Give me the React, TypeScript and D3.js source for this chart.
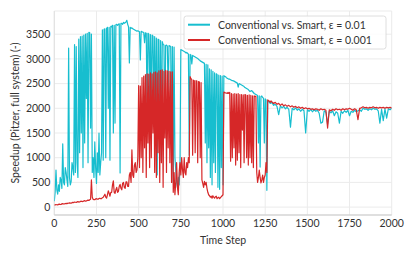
import * as d3 from 'd3';

const W = 415;
const H = 256;
const M = { top: 11, right: 23.3, bottom: 41, left: 54.3 };

const CYAN = '#17becf';
const RED = '#d62728';
const FONT = 'Lato, "DejaVu Sans", sans-serif';

// time steps: every 5 steps up to 1295, then every 10 steps
const steps = [...d3.range(0, 1300, 5), ...d3.range(1300, 2001, 10)];

// Conventional vs. Smart, eps = 0.01
const cyanValues = [
  120, 300, 750, 350, 260, 450, 320, 600, 550, 380, 1280, 500, 450, 800, 700, 550, 420, 3220, 600, 450,
  520, 900, 800, 650, 3290, 700, 3250, 900, 600, 3400, 1100, 3450, 1500, 3460, 800, 3480, 1300, 3500, 2200, 3520,
  900, 3540, 3530, 1600, 3500, 700, 1000, 600, 1320, 800, 480, 1100, 700, 1500, 650, 900, 1100, 3590, 950, 3600,
  3610, 1000, 3620, 3640, 2000, 3640, 950, 3660, 3650, 3680, 1500, 3680, 1700, 3690, 3700, 3680, 3700, 3710, 690, 3720,
  3720, 3700, 3740, 3720, 3730, 3750, 3780, 3700, 3650, 2920, 3640, 3620, 3630, 3610, 3600, 3590, 3580, 3570, 3560, 3570,
  3560, 3550, 2980, 3560, 3550, 3540, 3540, 3330, 3530, 3520, 1950, 3520, 3500, 2200, 3490, 1800, 3480, 3460, 1970, 3450,
  1600, 3420, 650, 3400, 3390, 950, 3370, 1200, 3350, 3290, 3280, 1500, 3270, 3280, 3260, 2310, 3270, 3260, 3250, 1100,
  3250, 500, 3240, 1000, 750, 500, 400, 600, 450, 800, 3190, 3180, 3170, 3160, 3150, 3140, 3120, 3130, 3110, 3100,
  1050, 3090, 3080, 2900, 3070, 3060, 3050, 3040, 3030, 3020, 3010, 2990, 2980, 2960, 2950, 2940, 2930, 2920, 2910, 1300,
  2890, 900, 2880, 1200, 2800, 600, 2780, 450, 2750, 900, 2720, 700, 2700, 2680, 400, 2670, 360, 2660, 800, 2650,
  450, 2660, 2650, 2640, 2620, 2610, 2600, 2590, 2590, 2580, 2570, 2560, 2560, 2550, 2540, 2530, 2520, 2510, 2430, 2500,
  2490, 2480, 2470, 2460, 2450, 2440, 2420, 2410, 2400, 2390, 2380, 2360, 2340, 2350, 2360, 2340, 2320, 2300, 2290, 2280,
  2270, 2260, 1300, 2250, 810, 2240, 2250, 2220, 2200, 1300, 2190, 2170, 340, 2150, 2140, 2120, 2100, 2110, 2120, 2090,
  // from 1300 on, every 10 steps
  2060, 2080, 2040, 1870, 2050, 2010, 2040, 1990, 2020, 1980,
  1620, 2000, 1970, 2010, 1960, 1990, 1940, 1980, 1950, 1500,
  1970, 1940, 1980, 1930, 1970, 1940, 1960, 1900, 1700, 1720,
  1950, 1920, 1680, 1940, 1910, 1950, 1850, 1930, 1900, 1700,
  1940, 1900, 1950, 1920, 1960, 1850, 1940, 1920, 1960, 1930,
  1950, 1970, 1940, 2000, 1980, 1990, 1960, 1990, 1970, 2000,
  1980, 1990, 1950, 1700, 1980, 1750, 1990, 1800, 1990, 1970,
  2000,
];

// Conventional vs. Smart, eps = 0.001
const redValues = [
  40, 45, 50, 48, 45, 55, 60, 52, 55, 65, 70, 62, 65, 72, 75, 70, 80, 78, 85, 80,
  80, 90, 95, 92, 100, 98, 95, 105, 110, 102, 105, 115, 120, 112, 115, 125, 130, 120, 125, 135,
  140, 135, 150, 160, 550, 200, 160, 150, 150, 165, 170, 160, 160, 175, 180, 170, 170, 190, 200, 230,
  260, 200, 180, 250, 330, 280, 220, 300, 300, 450, 530, 300, 280, 350, 400, 300, 320, 420, 460, 380,
  350, 480, 500, 400, 380, 510, 510, 420, 420, 650, 700, 500, 1160, 650, 600, 850, 900, 700, 750, 1000,
  2460, 800, 2450, 1000, 2620, 700, 2650, 1200, 2680, 600, 2700, 1300, 2690, 800, 2720, 1000, 2700, 1500, 2730, 700,
  2740, 600, 2720, 1100, 2760, 500, 2770, 900, 2780, 400, 2750, 1400, 2770, 700, 2760, 1200, 2750, 900, 2740, 500,
  2740, 300, 700, 250, 500, 900, 400, 250, 700, 900, 650, 1000, 750, 600, 1000, 700, 650, 900, 800, 1000,
  900, 2640, 2600, 2580, 1050, 2570, 2560, 1100, 2560, 2550, 900, 2540, 2530, 1000, 2520, 550, 480, 400, 520, 450,
  500, 380, 300, 250, 230, 200, 220, 180, 230, 200, 180, 210, 220, 170, 190, 200, 170, 190, 210, 230,
  250, 2330, 2320, 2310, 2310, 2300, 2320, 2300, 2320, 930, 2300, 1000, 2290, 1200, 2300, 850, 2290, 950, 2300, 1100,
  2280, 800, 2280, 1560, 2270, 900, 2280, 2270, 1000, 2260, 850, 2270, 1000, 2260, 900, 2250, 800, 2250, 2240, 2240,
  700, 500, 600, 750, 600, 490, 550, 650, 500, 600, 650, 900, 700, 2170, 2160, 2140, 2120, 2150, 2130, 2110,
  // from 1300 on, every 10 steps
  2100, 2120, 2080, 2100, 2060, 2090, 2050, 2070, 2040, 2060,
  2030, 2050, 2020, 2040, 2010, 2030, 2000, 2020, 1990, 2010,
  1990, 2000, 1980, 1990, 1970, 1990, 1980, 1960, 1990, 1970,
  1980, 1960, 1600, 1970, 1950, 1980, 1960, 1990, 1970, 1980,
  1960, 1990, 1970, 1990, 1980, 2000, 1980, 1960, 1990, 1970,
  1770, 2000, 2010, 2030, 2010, 2020, 2000, 2020, 2010, 2030,
  2010, 2020, 2000, 2020, 2010, 2020, 2000, 2020, 2010, 2020,
  2010,
];

const xTicks = [0, 250, 500, 750, 1000, 1250, 1500, 1750, 2000];
const yTicks = [0, 500, 1000, 1500, 2000, 2500, 3000, 3500];

const seriesLabels = ['Conventional vs. Smart, ε = 0.01', 'Conventional vs. Smart, ε = 0.001'];

export default function App() {
  const x = d3.scaleLinear().domain([0, 2000]).range([M.left, W - M.right]);
  const y = d3.scaleLinear().domain([-160, 3970]).range([H - M.bottom, M.top]);

  const line = d3
    .line<number>()
    .x((_, i) => x(steps[i]))
    .y((d) => y(d));

  const series = [
    { values: cyanValues, color: CYAN },
    { values: redValues, color: RED },
  ];

  const x0 = M.left;
  const x1 = W - M.right;
  const y0 = H - M.bottom;
  const y1 = M.top;

  return (
    <svg width={W} height={H} style={{ position: 'absolute', left: 0, top: 0 }} fontFamily={FONT}>
      <rect width={W} height={H} fill="#fff" />
      {/* grid */}
      {xTicks.map((t) => (
        <line key={'gx' + t} x1={x(t)} x2={x(t)} y1={y1} y2={y0} stroke="#ebebeb" strokeWidth={1} />
      ))}
      {yTicks.map((t) => (
        <line key={'gy' + t} x1={x0} x2={x1} y1={y(t)} y2={y(t)} stroke="#ebebeb" strokeWidth={1} />
      ))}
      <line x1={x0} x2={x1} y1={y1} y2={y1} stroke="#ebebeb" />
      <line x1={x0} x2={x0} y1={y1} y2={y0} stroke="#e0e0e0" />
      <line x1={x0} x2={x1} y1={y0} y2={y0} stroke="#d4d4d4" strokeWidth={1.3} />

      <defs>
        <clipPath id="plotClip">
          <rect x={x0} y={y1} width={x1 - x0} height={y0 - y1} />
        </clipPath>
      </defs>
      <g clipPath="url(#plotClip)">
        {series.map((s) => (
          <path key={s.color} d={line(s.values) ?? ''} fill="none" stroke={s.color} strokeWidth={1.2} strokeLinejoin="round" />
        ))}
      </g>

      {/* ticks */}
      {xTicks.map((t) => (
        <text key={'tx' + t} x={x(t)} y={y0 + 12} textAnchor="middle" fontSize={10.5} fill="#333">
          {t}
        </text>
      ))}
      {yTicks.map((t) => (
        <text key={'ty' + t} x={x0 - 4} y={y(t) + 3.7} textAnchor="end" fontSize={10.5} fill="#333">
          {t}
        </text>
      ))}
      <text x={(x0 + x1) / 2} y={244} textAnchor="middle" fontSize={10.5} fill="#333">
        Time Step
      </text>
      <text
        transform={`translate(${19},${(y0 + y1) / 2}) rotate(-90)`}
        textAnchor="middle"
        fontSize={10.5}
        fill="#333"
      >
        Speedup (Pitzer, full system) (-)
      </text>

      {/* legend */}
      <rect x={184} y={16} width={202} height={33} rx={2.5} fill="#fff" fillOpacity={0.85} stroke="#d6d6d6" strokeWidth={0.8} />
      {seriesLabels.map((label, i) => (
        <g key={label} transform={`translate(0,${24.7 + i * 15.3})`}>
          <line x1={188} x2={210} y1={0} y2={0} stroke={series[i].color} strokeWidth={2} />
          <text x={218} y={3.8} fontSize={10.5} fill="#333">
            {label}
          </text>
        </g>
      ))}
    </svg>
  );
}
